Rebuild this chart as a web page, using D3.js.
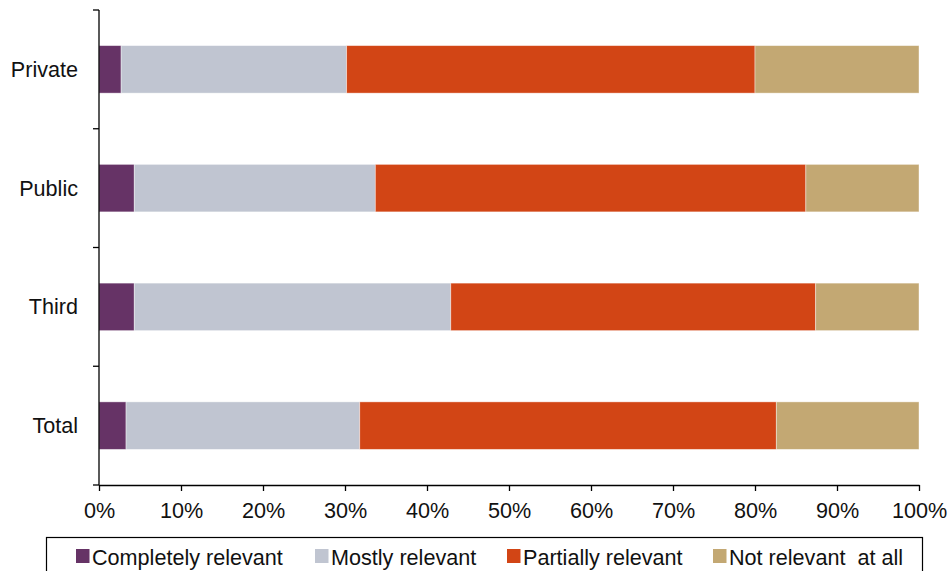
<!DOCTYPE html>
<html>
<head>
<meta charset="utf-8">
<script src="https://cdn.jsdelivr.net/npm/d3@7"></script>
<style>
  body { margin: 0; background: #fff; }
  text { font-family: "Liberation Sans", Arial, sans-serif; fill: #111; }
</style>
</head>
<body>
<div id="chart"></div>
<script>
// Chart data
const categories = ['Private', 'Public', 'Third', 'Total'];
const seriesNames = ['Completely relevant', 'Mostly relevant', 'Partially relevant', 'Not relevant  at all'];
const completelyRelevant = [2.7, 4.3, 4.3, 3.3];
const mostlyRelevant = [27.5, 29.4, 38.6, 28.5];
const partiallyRelevant = [49.8, 52.5, 44.5, 50.8];
const notRelevant = [20.0, 13.8, 12.6, 17.4];
const xTicks = [0, 10, 20, 30, 40, 50, 60, 70, 80, 90, 100];
const colors = ['#663366', '#c0c5d1', '#d24515', '#c3a873'];

const chartWidth = 952;
const chartHeight = 571;
const plotLeft = 99;
const plotRight = 919;
const plotTop = 10;
const plotBottom = 485;
const fontSize = '21.6px';

const rows = categories.map((c, i) => ({
  category: c,
  s0: completelyRelevant[i],
  s1: mostlyRelevant[i],
  s2: partiallyRelevant[i],
  s3: notRelevant[i]
}));

const stacked = d3.stack().keys(['s0', 's1', 's2', 's3'])(rows);

const x = d3.scaleLinear().domain([0, 100]).range([plotLeft, plotRight]);
const y = d3.scaleBand().domain(categories).range([plotTop, plotBottom]).paddingInner(0.6).paddingOuter(0.3);

const svg = d3.select('#chart')
  .append('svg')
  .attr('width', chartWidth)
  .attr('height', chartHeight);

// bars
svg.append('g')
  .selectAll('g')
  .data(stacked)
  .enter()
  .append('g')
  .attr('fill', (d, i) => colors[i])
  .selectAll('rect')
  .data((d) => d)
  .enter()
  .append('rect')
  .attr('x', (d) => x(d[0]))
  .attr('y', (d) => y(d.data.category))
  .attr('width', (d) => x(d[1]) - x(d[0]))
  .attr('height', y.bandwidth())
  .attr('stroke', '#fff')
  .attr('stroke-opacity', 0.5)
  .attr('stroke-width', 0.8);

// y axis: line with ticks at category boundaries
const yAxisG = svg.append('g');
yAxisG.append('line')
  .attr('x1', plotLeft).attr('x2', plotLeft)
  .attr('y1', plotTop).attr('y2', plotBottom)
  .attr('stroke', '#000').attr('stroke-width', 1.3);

const step = y.step();
const boundaries = d3.range(categories.length + 1).map((i) => plotTop + i * step);
yAxisG.selectAll('line.tick')
  .data(boundaries)
  .enter()
  .append('line')
  .attr('class', 'tick')
  .attr('x1', plotLeft - 6).attr('x2', plotLeft)
  .attr('y1', (d) => d).attr('y2', (d) => d)
  .attr('stroke', '#000').attr('stroke-width', 1.3);

yAxisG.selectAll('text')
  .data(categories)
  .enter()
  .append('text')
  .attr('x', plotLeft - 21)
  .attr('y', (d) => y(d) + y.bandwidth() / 2)
  .attr('dy', '0.35em')
  .attr('text-anchor', 'end')
  .style('font-size', fontSize)
  .text((d) => d);

// x axis
const xAxis = d3.axisBottom(x)
  .tickValues(xTicks)
  .tickSize(6)
  .tickSizeOuter(0)
  .tickPadding(12)
  .tickFormat((d) => d + '%');

const xAxisG = svg.append('g')
  .attr('transform', 'translate(0,' + plotBottom + ')')
  .call(xAxis);
xAxisG.select('.domain').attr('stroke', '#000').attr('stroke-width', 1.3);
xAxisG.selectAll('.tick line').attr('stroke', '#000').attr('stroke-width', 1.3);
xAxisG.selectAll('.tick text')
  .style('font-size', fontSize)
  .style('font-family', '"Liberation Sans", Arial, sans-serif')
  .attr('fill', '#111');

// legend
const legend = svg.append('g');
legend.append('rect')
  .attr('x', 46.5).attr('y', 537.5)
  .attr('width', 876).attr('height', 40)
  .attr('fill', '#fff')
  .attr('stroke', '#000')
  .attr('stroke-width', 1.2);

const legendX = [76, 315, 507, 713];
const items = legend.selectAll('g.item')
  .data(seriesNames)
  .enter()
  .append('g')
  .attr('class', 'item')
  .attr('transform', (d, i) => 'translate(' + legendX[i] + ',549)');

items.append('rect')
  .attr('width', 13.5).attr('height', 14)
  .attr('fill', (d, i) => colors[i]);

items.append('text')
  .attr('x', 16)
  .attr('y', 16)
  .style('font-size', fontSize)
  .style('white-space', 'pre')
  .text((d) => d);
</script>
</body>
</html>
